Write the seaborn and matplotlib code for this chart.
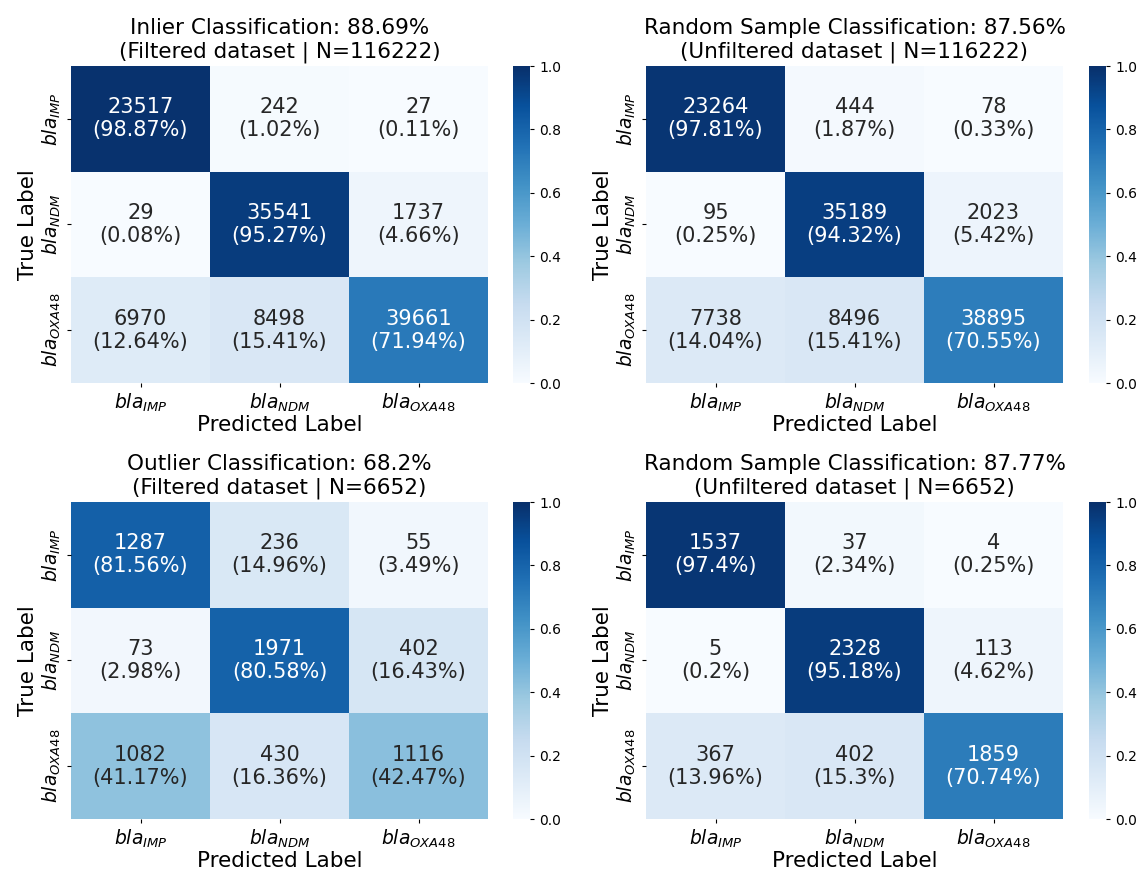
import numpy as np
import matplotlib
matplotlib.use("Agg")
import matplotlib.pyplot as plt
import seaborn as sns

# Class names (mathtext, italic gene names)
class_labels = [r"$bla_{IMP}$", r"$bla_{NDM}$", r"$bla_{OXA48}$"]

# Confusion-matrix counts (rows = true label, columns = predicted label)
inlier_filtered = [[23517, 242, 27],
                   [29, 35541, 1737],
                   [6970, 8498, 39661]]
inlier_random = [[23264, 444, 78],
                 [95, 35189, 2023],
                 [7738, 8496, 38895]]
outlier_filtered = [[1287, 236, 55],
                    [73, 1971, 402],
                    [1082, 430, 1116]]
outlier_random = [[1537, 37, 4],
                  [5, 2328, 113],
                  [367, 402, 1859]]

panel_titles = [
    "Inlier Classification: 88.69%\n(Filtered dataset | N=116222)",
    "Random Sample Classification: 87.56%\n(Unfiltered dataset | N=116222)",
    "Outlier Classification: 68.2%\n(Filtered dataset | N=6652)",
    "Random Sample Classification: 87.77%\n(Unfiltered dataset | N=6652)",
]

matrices = [inlier_filtered, inlier_random, outlier_filtered, outlier_random]

fig = plt.figure(figsize=(11.4, 8.72), dpi=100)

W, H = 1140, 872
hm_w, hm_h = 417, 317
cb_w = 17
lefts = [71, 646]
tops = [66, 502]
cb_lefts = [513, 1089]

for idx, (counts, title) in enumerate(zip(matrices, panel_titles)):
    r, c = divmod(idx, 2)
    ax = fig.add_axes([lefts[c] / W, 1 - (tops[r] + hm_h) / H, hm_w / W, hm_h / H])
    cax = fig.add_axes([cb_lefts[c] / W, 1 - (tops[r] + hm_h) / H, cb_w / W, hm_h / H])

    cm = np.array(counts, dtype=float)
    frac = cm / cm.sum(axis=1, keepdims=True)
    annot = np.empty(cm.shape, dtype=object)
    for i in range(cm.shape[0]):
        for j in range(cm.shape[1]):
            pct = round(100 * frac[i, j], 2)
            annot[i, j] = f"{int(cm[i, j])}\n({pct}%)"

    sns.heatmap(frac, ax=ax, cbar_ax=cax, cmap="Blues", vmin=0, vmax=1,
                annot=annot, fmt="", annot_kws={"fontsize": 15},
                xticklabels=class_labels, yticklabels=class_labels)
    ax.set_yticklabels(class_labels, rotation=90, va="center", fontsize=13.5)
    ax.set_xticklabels(class_labels, rotation=0, fontsize=13.5)
    ax.tick_params(axis="both", length=3, width=0.8, pad=3)
    ax.set_title(title, fontsize=15.5, pad=6)
    ax.set_xlabel("Predicted Label", fontsize=15.5, labelpad=1)
    ax.set_ylabel("True Label", fontsize=15.5, labelpad=2)
    cax.tick_params(labelsize=10, length=3, width=0.8)

fig.savefig("out.png", dpi=100)
